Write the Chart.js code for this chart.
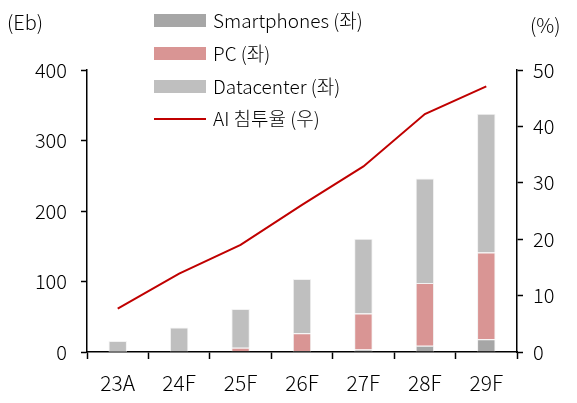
<!DOCTYPE html>
<html>
<head>
<meta charset="utf-8">
<script src="https://cdn.jsdelivr.net/npm/chart.js@4.4.1/dist/chart.umd.min.js"></script>
<style>
    body { margin: 0; background: #fff; }
    #wrap { width: 577px; height: 403px; }
</style>
</head>
<body>
<div id="wrap"><canvas id="chart"></canvas></div>
<script>
const years = ["23A", "24F", "25F", "26F", "27F", "28F", "29F"];
const smartphones = [0.5, 0.8, 1, 1.5, 3.5, 9, 18];
const pc = [0, 0, 5, 25, 51, 89, 123];
const datacenter = [15, 34, 55, 77, 106, 148, 197];
const aiRate = [7.7, 13.9, 19.0, 26.1, 32.9, 42.2, 47.1];

const FONT = "'Noto Sans CJK KR', 'Noto Sans', sans-serif";

// legend + axis unit labels drawn by hand (legend sits over the plot)
const extras = {
    id: "extras",
    afterDraw(chart) {
        const ctx = chart.ctx;
        ctx.save();
        ctx.font = "300 20px " + FONT;
        ctx.fillStyle = "#000";
        ctx.textBaseline = "middle";
        ctx.textAlign = "left";
        ctx.fillText("(Eb)", 7, 22);
        ctx.fillText("(%)", 530, 25);

        ctx.font = "300 19px " + FONT;
        const rows = [21, 54, 87, 119];
        chart.data.datasets.forEach((ds, i) => {
            const y = rows[i];
            if (ds.type === "line") {
                ctx.strokeStyle = ds.borderColor;
                ctx.lineWidth = 2;
                ctx.beginPath();
                ctx.moveTo(154, y);
                ctx.lineTo(206, y);
                ctx.stroke();
            } else {
                ctx.fillStyle = ds.backgroundColor;
                ctx.fillRect(154, y - 7, 52, 13);
            }
            ctx.fillStyle = "#000";
            ctx.fillText(ds.label, 213, y);
        });
        ctx.restore();
    }
};

const tickFont = { family: FONT, size: 20, weight: 300 };

new Chart(document.getElementById("chart"), {
    data: {
        labels: years,
        datasets: [
            {
                type: "bar",
                label: "Smartphones (좌)",
                data: smartphones,
                backgroundColor: "#a6a6a6",
                borderColor: "#f2f2f2",
                borderWidth: 1,
                yAxisID: "y",
                order: 1,
            },
            {
                type: "bar",
                label: "PC (좌)",
                data: pc,
                backgroundColor: "#d99594",
                borderColor: "#f2f2f2",
                borderWidth: 1,
                yAxisID: "y",
                order: 1,
            },
            {
                type: "bar",
                label: "Datacenter (좌)",
                data: datacenter,
                backgroundColor: "#bfbfbf",
                borderColor: "#f2f2f2",
                borderWidth: 1,
                yAxisID: "y",
                order: 1,
            },
            {
                type: "line",
                label: "AI 침투율 (우)",
                data: aiRate,
                borderColor: "#c00000",
                borderWidth: 2,
                pointRadius: 0,
                tension: 0,
                yAxisID: "y1",
                order: 0,
            },
        ],
    },
    options: {
        responsive: true,
        maintainAspectRatio: false,
        animation: false,
        layout: { padding: { top: 70, left: 0, right: 0, bottom: 0 } },
        datasets: {
            bar: { barPercentage: 0.3, categoryPercentage: 1 },
        },
        plugins: {
            legend: { display: false },
            tooltip: { enabled: false },
        },
        scales: {
            x: {
                stacked: true,
                offset: true,
                afterFit: (s) => { s.height = 51; },
                grid: {
                    offset: true,
                    drawOnChartArea: false,
                    drawTicks: true,
                    tickLength: 7,
                    tickColor: "#000",
                    tickWidth: 1.5,
                },
                border: { color: "#000", width: 1.5 },
                ticks: { color: "#000", font: { family: FONT, size: 21, weight: 300 }, padding: 11 },
            },
            y: {
                stacked: true,
                position: "left",
                min: 0,
                max: 400,
                afterFit: (s) => { s.width = 87; },
                grid: {
                    drawOnChartArea: false,
                    tickLength: 6,
                    tickColor: "#000",
                    tickWidth: 1.5,
                },
                border: { color: "#000", width: 1.5 },
                ticks: { stepSize: 100, color: "#000", font: tickFont, padding: 14 },
            },
            y1: {
                position: "right",
                min: 0,
                max: 50,
                afterFit: (s) => { s.width = 60; },
                grid: {
                    drawOnChartArea: false,
                    tickLength: 6,
                    tickColor: "#000",
                    tickWidth: 1.5,
                },
                border: { color: "#000", width: 1.5 },
                ticks: { stepSize: 10, color: "#000", font: tickFont, padding: 10 },
            },
        },
    },
    plugins: [extras],
});
</script>
</body>
</html>
